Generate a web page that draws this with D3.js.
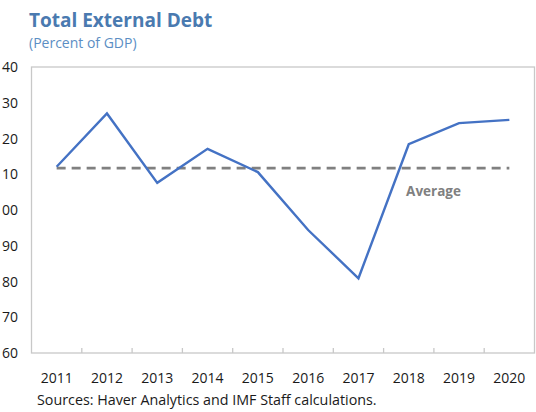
<!DOCTYPE html>
<html><head><meta charset="utf-8">
<script src="https://cdn.jsdelivr.net/npm/d3@7"></script>
<style>body{margin:0;background:#fff}svg{display:block}text{font-family:"Open Sans","Noto Sans",sans-serif}</style>
</head><body>
<svg id="c" width="536" height="412"></svg>
<script>
const years = ["2011","2012","2013","2014","2015","2016","2017","2018","2019","2020"];
const debt = [112.1,127.0,107.6,117.1,110.6,94.4,80.9,118.4,124.3,125.2];
const average = [111.7];
const yTicks = [60,70,80,90,100,110,120,130,140];

const svg = d3.select("#c");
const L = 31.5, R = 534.5, T = 67, B = 353;
const x = d3.scaleBand().domain(years).range([L, R]);
const y = d3.scaleLinear().domain([60,140]).range([B, T]);

// frame
svg.append("rect").attr("x",L).attr("y",T).attr("width",R-L).attr("height",B-T)
  .attr("fill","none").attr("stroke","#c8c8c8").attr("stroke-width",1.3);

// x axis ticks (inside)
const xa = svg.append("g").attr("transform",`translate(0,${B})`);
xa.selectAll("line").data(years.slice(1)).enter().append("line")
  .attr("x1",d=>x(d)).attr("x2",d=>x(d)).attr("y1",0).attr("y2",-5)
  .attr("stroke","#c8c8c8").attr("stroke-width",1.3);
xa.selectAll("text").data(years).enter().append("text")
  .attr("x",d=>x(d)+x.bandwidth()/2).attr("y",30).attr("text-anchor","middle")
  .attr("font-size",14).attr("fill","#1a1a1a").text(d=>d);

// y labels
svg.append("g").selectAll("text").data(yTicks).enter().append("text")
  .attr("x",18).attr("y",d=>y(d)+5).attr("text-anchor","end")
  .attr("font-size",14).attr("fill","#1a1a1a").text(d=>d);

// average dashed line
const cx = d => x(d)+x.bandwidth()/2;
svg.append("line").attr("x1",cx(years[0])).attr("x2",cx(years[years.length-1]))
  .attr("y1",y(average[0])).attr("y2",y(average[0]))
  .attr("stroke","#808080").attr("stroke-width",2.6).attr("stroke-dasharray","9,6");

// series line
svg.append("path").datum(debt)
  .attr("d", d3.line().x((d,i)=>cx(years[i])).y(d=>y(d)))
  .attr("fill","none").attr("stroke","#4472c4").attr("stroke-width",2.4)
  .attr("stroke-linejoin","miter");

svg.append("text").attr("x",433.5).attr("y",y(average[0])+28).attr("text-anchor","middle")
  .attr("font-size",13.5).attr("font-weight","bold").attr("fill","#808080").text("Average");

// titles
svg.append("text").attr("x",29).attr("y",26.5).attr("font-size",19).attr("font-weight","bold")
  .attr("fill","#4a7ab0").text("Total External Debt");
svg.append("text").attr("x",29).attr("y",48).attr("font-size",14)
  .attr("fill","#5b8ec4").text("(Percent of GDP)");
svg.append("text").attr("x",37).attr("y",405).attr("font-size",14.3)
  .attr("fill","#1a1a1a").text("Sources: Haver Analytics and IMF Staff calculations.");
</script>
</body></html>
